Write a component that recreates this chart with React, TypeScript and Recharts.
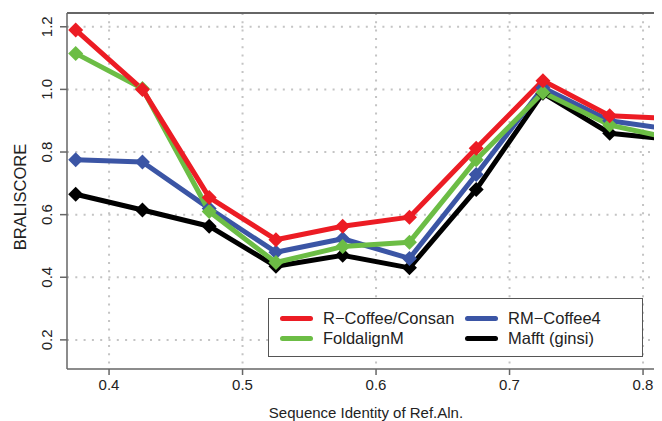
import React from "react";
import { LineChart, Line, XAxis, YAxis, CartesianGrid, ReferenceLine } from "recharts";

const xValues = [0.375, 0.425, 0.475, 0.525, 0.575, 0.625, 0.675, 0.725, 0.775, 0.825];
const rCoffee = [1.19, 1.0, 0.655, 0.52, 0.563, 0.592, 0.812, 1.028, 0.916, 0.906];
const foldalignM = [1.115, 1.003, 0.61, 0.447, 0.498, 0.512, 0.775, 0.99, 0.886, 0.84];
const rmCoffee4 = [0.775, 0.768, 0.62, 0.48, 0.523, 0.46, 0.728, 1.005, 0.9, 0.87];
const mafft = [0.665, 0.615, 0.563, 0.435, 0.47, 0.43, 0.68, 0.988, 0.86, 0.838];

const xTicks = [0.4, 0.5, 0.6, 0.7, 0.8];
const yTicks = [0.2, 0.4, 0.6, 0.8, 1.0, 1.2];
const xDomain: [number, number] = [0.3685, 0.8142];
const yDomain: [number, number] = [0.107, 1.244];

const seriesNames = ["R\u2212Coffee/Consan", "RM\u2212Coffee4", "FoldalignM", "Mafft (ginsi)"];
const seriesColors = ["#ec1c24", "#3b55a5", "#6cbd45", "#000000"];

const data = xValues.map((x, i) => ({
  x,
  red: rCoffee[i],
  green: foldalignM[i],
  blue: rmCoffee4[i],
  black: mafft[i],
}));

const FONT = "'Liberation Sans', Arial, Helvetica, sans-serif";
const AXIS_COLOR = "#666666";

const makeDiamond = (color: string) => (props: any) => {
  const { cx, cy, index } = props;
  if (cx == null || cy == null) return <g key={`d-${index}`} />;
  const h = 7.5;
  return (
    <polygon
      key={`d-${index}`}
      points={`${cx},${cy - h} ${cx + h},${cy} ${cx},${cy + h} ${cx - h},${cy}`}
      fill={color}
      stroke="none"
    />
  );
};

const XTick = (props: any) => {
  const { x, y, payload } = props;
  return (
    <text x={x} y={y + 15} textAnchor="middle" fontSize={15} fontFamily={FONT} fill="#222">
      {Number(payload.value).toFixed(1)}
    </text>
  );
};

const YTick = (props: any) => {
  const { x, y, payload } = props;
  const tx = x - 8;
  return (
    <text
      x={tx}
      y={y}
      transform={`rotate(-90 ${tx} ${y})`}
      textAnchor="middle"
      fontSize={15}
      fontFamily={FONT}
      fill="#222"
    >
      {Number(payload.value).toFixed(1)}
    </text>
  );
};

const legendRows = [
  [0, 1],
  [2, 3],
];

export default function App() {
  return (
    <div style={{ position: "relative", width: 654, height: 413, overflow: "hidden", background: "#fff" }}>
      <LineChart width={654} height={413} data={data} margin={{ top: 5, right: 0, bottom: 0, left: 0 }}>
        <CartesianGrid
          stroke="#c4c4c4"
          strokeDasharray="2 6.3"
          strokeWidth={2}
          horizontalValues={yTicks}
          verticalValues={xTicks}
        />
        <XAxis
          dataKey="x"
          type="number"
          domain={xDomain}
          allowDataOverflow
          ticks={xTicks}
          height={52}
          tickSize={6}
          tickMargin={0}
          tick={<XTick />}
          axisLine={{ stroke: AXIS_COLOR, strokeWidth: 1.5 }}
          tickLine={{ stroke: AXIS_COLOR, strokeWidth: 1.5 }}
          label={{
            content: (p: any) => {
              const vb = p.viewBox || { x: 59, y: 361, width: 595, height: 52 };
              return (
                <text x={358} y={vb.y + 49} textAnchor="middle" fontSize={15} fontFamily={FONT} fill="#222">
                  Sequence Identity of Ref.Aln.
                </text>
              );
            },
          }}
        />
        <YAxis
          type="number"
          domain={yDomain}
          allowDataOverflow
          ticks={yTicks}
          width={59}
          tickSize={7}
          tickMargin={0}
          tick={<YTick />}
          axisLine={{ stroke: AXIS_COLOR, strokeWidth: 1.5 }}
          tickLine={{ stroke: AXIS_COLOR, strokeWidth: 1.5 }}
          label={{
            content: (p: any) => {
              const vb = p.viewBox || { x: 0, y: 5, width: 59, height: 356 };
              const lx = 18;
              const ly = vb.y + vb.height / 2 + 6;
              return (
                <text
                  x={lx}
                  y={ly}
                  transform={`rotate(-90 ${lx} ${ly})`}
                  textAnchor="middle"
                  fontSize={16.5}
                  fontFamily={FONT}
                  fill="#222"
                >
                  BRALISCORE
                </text>
              );
            },
          }}
        />
        <ReferenceLine y={yDomain[1]} stroke={AXIS_COLOR} strokeWidth={2} ifOverflow="visible" />
        <Line
          dataKey="black"
          stroke={seriesColors[3]}
          strokeWidth={5}
          strokeLinejoin="round"
          dot={makeDiamond(seriesColors[3])}
          activeDot={false}
          isAnimationActive={false}
        />
        <Line
          dataKey="blue"
          stroke={seriesColors[1]}
          strokeWidth={5}
          strokeLinejoin="round"
          dot={makeDiamond(seriesColors[1])}
          activeDot={false}
          isAnimationActive={false}
        />
        <Line
          dataKey="green"
          stroke={seriesColors[2]}
          strokeWidth={5}
          strokeLinejoin="round"
          dot={makeDiamond(seriesColors[2])}
          activeDot={false}
          isAnimationActive={false}
        />
        <Line
          dataKey="red"
          stroke={seriesColors[0]}
          strokeWidth={5}
          strokeLinejoin="round"
          dot={makeDiamond(seriesColors[0])}
          activeDot={false}
          isAnimationActive={false}
        />
      </LineChart>
      <div
        style={{
          position: "absolute",
          left: 260,
          top: 290,
          width: 375,
          height: 59,
          border: "1px solid #555",
          background: "#fff",
          boxSizing: "border-box",
          fontFamily: FONT,
          fontSize: 16.5,
          color: "#222",
        }}
      >
        {legendRows.map((row, ri) =>
          row.map((si, ci) => (
            <div
              key={`${ri}-${ci}`}
              style={{
                position: "absolute",
                left: ci === 0 ? 11 : 196,
                top: ri === 0 ? 9 : 29,
                height: 20,
                display: "flex",
                alignItems: "center",
                whiteSpace: "nowrap",
              }}
            >
              <span
                style={{
                  display: "inline-block",
                  width: 33,
                  height: 5,
                  borderRadius: 3,
                  background: seriesColors[si],
                  marginRight: 10,
                }}
              />
              <span>{seriesNames[si]}</span>
            </div>
          ))
        )}
      </div>
    </div>
  );
}
